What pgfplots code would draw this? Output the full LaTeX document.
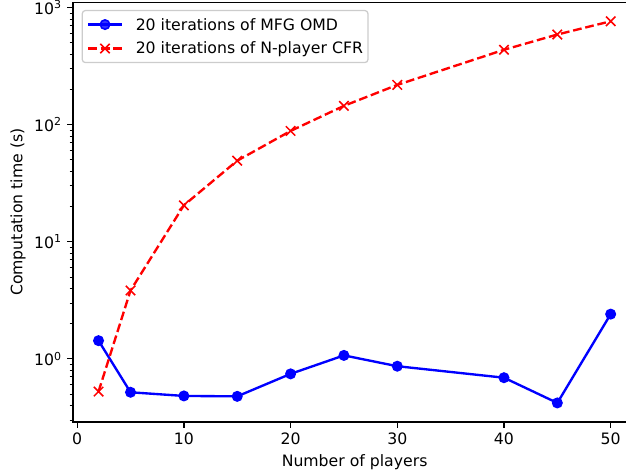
\documentclass[border=0pt]{standalone}
\usepackage{fontspec}
\setmainfont{DejaVu Sans}
\usepackage{pgfplots}
\pgfplotsset{compat=1.18}
\newcommand{\fs}{\fontsize{11.3}{13.5}\selectfont}
\begin{document}
\begin{tikzpicture}
\begin{axis}[
  name=ax,
  at={(0,0)}, anchor=south west,
  scale only axis,
  width=405.6pt, height=302.2pt,
  ymode=log,
  xmin=-0.4, xmax=52.4,
  ymin=0.2884, ymax=1112,
  xtick={0,10,20,30,40,50},
  ytick={1,10,100,1000},
  yticklabels={10\textsuperscript{0},10\textsuperscript{1},10\textsuperscript{2},10\textsuperscript{3}},
  minor ytick={0.3,0.4,0.5,0.6,0.7,0.8,0.9,2,3,4,5,6,7,8,9,20,30,40,50,60,70,80,90,200,300,400,500,600,700,800,900},
  tick align=outside,
  xtick pos=bottom, ytick pos=left,
  major tick length=4pt, minor tick length=2.3pt,
  major tick style={line width=0.9pt, black},
  minor tick style={line width=0.7pt, black},
  axis line style={line width=0.9pt},
  /pgf/number format/assume math mode=true,
  tick label style={font=\fs, inner sep=3.8pt},
  xlabel={Number of players},
  every axis x label/.style={at={(axis description cs:0.5,0)}, anchor=north, yshift=-23pt, inner sep=0pt, font=\fs},
  ylabel={Computation time (s)},
  every axis y label/.style={at={(axis description cs:-0.0833,0.5)}, rotate=90, anchor=south, inner sep=0pt, font=\fs},
  legend cell align=left,
  legend image code/.code={\draw[mark repeat=2,mark phase=2,#1] plot coordinates {(0pt,0pt) (11.9pt,0pt) (23.8pt,0pt)};},
  legend style={at={(axis description cs:0,1)}, anchor=north west, xshift=6.3pt, yshift=-5.5pt,
    draw={rgb,1:red,0.8;green,0.8;blue,0.8}, line width=0.9pt, rounded corners=2.2pt,
    fill=white, fill opacity=0.8, text opacity=1, draw opacity=1,
    inner xsep=3.6pt, inner ysep=3.5pt, row sep=4.1pt, column sep=9.4pt,
    nodes={inner sep=0pt, text height=10.5pt, text depth=2.67pt},
    font=\fs},
]
\addplot[blue, line width=1.7pt, mark=*, mark size=3.4pt, mark options={solid, line width=1.1pt, fill=blue}]
coordinates {(2,1.43) (5,0.518) (10,0.482) (15,0.478) (20,0.744) (25,1.07) (30,0.865) (40,0.69) (45,0.42) (50,2.41)};
\addlegendentry{20 iterations of MFG OMD}
\addplot[red, line width=1.7pt, dash pattern=on 6.3pt off 2.7pt, mark=x, mark size=4.8pt, mark options={solid, line width=1.13pt}]
coordinates {(2,0.525) (5,3.84) (10,20.5) (15,49.3) (20,88.5) (25,145) (30,219) (40,437) (45,590) (50,766)};
\addlegendentry{20 iterations of N-player CFR}
\end{axis}
\pgfresetboundingbox
\path[use as bounding box] ([xshift=-52.5pt,yshift=-36pt]ax.south west) rectangle ([xshift=398.2pt,yshift=1.66pt]ax.north west);
\end{tikzpicture}
\end{document}
